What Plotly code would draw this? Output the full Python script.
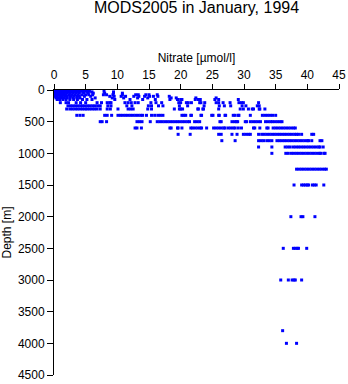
import plotly.graph_objects as go

# Standard depth levels [m]
depth_levels = [0, 10, 20, 30, 50, 75, 100, 125, 150, 200, 250, 300, 400, 500,
                600, 700, 800, 900, 1000, 1250, 1500, 2000, 2500, 3000, 3800, 4000]

# Nitrate [umol/l] observed at each depth level
n_0 = [0.0, 0.1, 0.2, 0.3, 0.4, 0.6, 0.7, 0.9, 1.0, 1.2, 1.5, 1.8, 2.2, 2.6, 3.0, 3.5, 4.1, 4.8]
n_10 = [0.0, 0.2, 0.3, 0.5, 0.8, 1.1, 1.4, 1.9, 2.3, 2.8, 3.2, 3.9, 4.5, 5.2]
n_20 = [0.1, 0.4, 0.7, 1.0, 1.3, 1.7, 2.1, 2.5, 3.0, 3.6, 4.2, 4.9, 5.6, 7.9]
n_30 = [0.0, 0.3, 0.6, 0.9, 1.3, 1.6, 2.0, 2.4, 2.9, 3.4, 3.9, 4.6, 5.3, 6.0, 9.4]
n_50 = [0.2, 0.5, 0.9, 1.2, 1.6, 2.0, 2.5, 3.0, 3.5, 4.0, 4.7, 5.4, 6.2, 8.0, 9.4, 10.8]
n_75 = [0.1, 0.4, 0.8, 1.1, 1.5, 1.9, 2.4, 2.8, 3.3, 3.8, 4.4, 5.0, 5.5, 6.1, 7.8, 8.3,
        9.3, 10.8, 12.9, 13.3, 14.5, 15.0, 16.3]
n_100 = [0.2, 0.5, 0.9, 1.3, 1.7, 2.1, 2.6, 3.1, 3.6, 4.0, 4.8, 5.8, 8.8, 9.5, 10.6,
         11.3, 12.6, 13.4, 14.3, 15.1, 15.7, 16.4, 18.2]
n_125 = [0.3, 0.7, 1.1, 1.5, 2.0, 2.5, 3.0, 3.6, 4.1, 6.5, 9.2, 11.0, 13.2, 14.8, 18.5,
         19.3, 22.4, 25.6]
n_150 = [0.5, 0.9, 1.4, 1.9, 2.5, 3.1, 3.7, 4.5, 5.2, 6.0, 9.6, 12.0, 14.0, 16.0, 18.3,
         19.5, 20.0, 20.2, 22.3, 22.8, 23.1, 25.4, 26.0, 29.1]
n_200 = [1.0, 1.9, 2.3, 3.5, 4.2, 5.0, 6.8, 7.5, 8.4, 8.8, 9.0, 11.2, 11.7, 12.2, 12.8,
         13.3, 15.3, 16.1, 17.0, 19.7, 20.0, 20.9, 21.2, 21.7, 23.0, 23.2, 23.8, 25.6,
         26.0, 26.7, 27.8, 29.2, 29.6, 29.9, 32.3]
n_250 = [2.2, 2.6, 3.0, 3.4, 3.8, 4.2, 4.5, 4.9, 5.3, 5.7, 6.1, 6.5, 6.9, 7.3, 8.5, 9.0,
         11.5, 12.3, 14.9, 15.4, 16.5, 17.2, 19.8, 21.1, 23.7, 26.1, 26.9, 27.9, 29.7,
         30.3, 32.1, 32.4]
n_300 = [2.0, 2.5, 2.9, 3.3, 3.7, 4.1, 4.5, 4.9, 5.2, 5.6, 6.0, 6.4, 6.8, 7.3, 8.4, 8.9,
         10.1, 11.7, 12.1, 12.5, 14.8, 15.4, 19.0, 19.8, 20.0, 20.3, 22.7, 22.8, 23.5,
         23.6, 26.0, 29.4, 29.9, 30.7, 31.3, 31.5, 32.4, 32.5, 33.3]
n_400 = [3.6, 4.1, 4.6, 8.0, 8.4, 9.1, 10.1, 10.5, 10.9, 11.3, 11.7, 12.1, 12.5, 12.9,
         13.3, 13.7, 14.0, 14.6, 15.4, 15.9, 16.4, 16.8, 17.2, 20.2, 20.5, 20.8, 21.6,
         21.7, 23.2, 23.3, 24.9, 25.1, 26.0, 26.1, 27.0, 27.1, 28.3, 28.6, 29.1, 29.2,
         31.0, 32.9, 33.3, 33.7, 34.1, 34.5, 35.0]
n_500 = [7.3, 7.6, 8.3, 13.1, 13.5, 13.9, 15.2, 16.3, 16.7, 17.1, 17.5, 17.9, 18.3, 18.7,
         19.1, 19.5, 19.9, 20.3, 20.7, 21.1, 21.4, 22.2, 22.6, 23.0, 26.2, 26.4, 28.1,
         28.5, 28.8, 29.0, 30.2, 30.4, 31.0, 31.4, 31.8, 32.2, 32.6, 33.4, 33.8, 34.2,
         34.5, 34.9, 35.3, 35.7, 36.0]
n_600 = [12.8, 13.1, 13.8, 18.3, 18.5, 19.5, 19.6, 20.2, 21.6, 21.9, 22.3, 22.7, 23.1,
         23.3, 24.1, 25.2, 25.6, 26.0, 26.4, 26.8, 27.0, 27.5, 27.9, 28.3, 28.6, 29.1,
         29.6, 31.5, 31.7, 32.5, 33.6, 33.8, 34.6, 35.0, 35.4, 35.8, 36.2, 36.6, 37.0,
         37.4, 37.8, 38.1]
n_700 = [19.6, 21.5, 26.0, 26.4, 28.1, 28.9, 29.9, 30.3, 30.7, 31.0, 32.3, 32.8, 33.2,
         33.6, 34.0, 34.4, 34.8, 35.2, 35.6, 36.0, 36.4, 36.8, 37.2, 37.6, 38.0, 38.3,
         38.6, 39.1, 40.7, 41.0]
n_800 = [26.5, 28.6, 32.3, 32.7, 33.1, 33.6, 34.0, 34.4, 35.2, 35.6, 36.0, 36.4, 36.8,
         37.2, 37.6, 38.0, 38.4, 38.8, 39.2, 39.6, 40.0, 40.2, 40.7, 42.0, 42.3]
n_900 = [32.3, 34.4, 36.5, 36.9, 37.3, 37.8, 38.2, 38.6, 39.0, 39.4, 39.8, 40.2, 40.6,
         41.0, 41.4, 41.8, 42.0, 42.5]
n_1000 = [34.4, 36.6, 37.0, 37.5, 37.9, 38.3, 38.7, 39.1, 39.5, 39.9, 40.3, 40.7, 41.1,
          41.5, 41.9, 42.1, 42.6, 42.8]
n_1250 = [38.3, 38.7, 39.1, 39.5, 39.9, 40.3, 40.7, 41.1, 41.5, 41.9, 42.3, 42.7, 43.0]
n_1500 = [37.9, 39.1, 39.4, 39.7, 40.0, 40.2, 40.8, 41.1, 41.4, 42.6]
n_2000 = [37.4, 39.0, 39.3, 41.2]
n_2500 = [36.2, 37.8, 38.1, 38.4, 38.6, 39.9]
n_3000 = [35.8, 37.0, 37.6, 37.9, 38.1, 39.1]
n_3800 = [36.1]
n_4000 = [36.7, 38.3]

nitrate_by_level = [n_0, n_10, n_20, n_30, n_50, n_75, n_100, n_125, n_150, n_200,
                    n_250, n_300, n_400, n_500, n_600, n_700, n_800, n_900, n_1000,
                    n_1250, n_1500, n_2000, n_2500, n_3000, n_3800, n_4000]

x_tick_vals = [0, 5, 10, 15, 20, 25, 30, 35, 40, 45]
y_tick_vals = [0, 500, 1000, 1500, 2000, 2500, 3000, 3500, 4000, 4500]

xs, ys = [], []
for d, vals in zip(depth_levels, nitrate_by_level):
    for v in vals:
        xs.append(v)
        ys.append(d)

FONT = "Liberation Sans, Arial, Helvetica, sans-serif"

fig = go.Figure()
fig.add_trace(go.Scatter(
    x=xs, y=ys, mode="markers",
    marker=dict(symbol="square", size=3, color="#0000ff", line=dict(width=0)),
    hoverinfo="skip",
))

fig.update_layout(
    width=348, height=384,
    margin=dict(l=54, r=9, t=90, b=9),
    paper_bgcolor="white", plot_bgcolor="white",
    showlegend=False,
    font=dict(family=FONT, size=12, color="black"),
    title=dict(text="MODS2005 in January, 1994", font=dict(family=FONT, size=16, color="black"),
               x=0.5, xref="paper", xanchor="center",
               y=1 - 7 / 384, yref="container", yanchor="middle"),
)
fig.update_xaxes(
    side="top", range=[0, 45], tickvals=x_tick_vals,
    ticks="outside", ticklen=5, tickwidth=1, tickcolor="black",
    showline=True, linecolor="black", linewidth=1,
    showgrid=False, zeroline=False, automargin=False,
    title=dict(text="Nitrate [µmol/l]", standoff=3, font=dict(size=12)),
    tickfont=dict(size=12),
)
fig.update_yaxes(
    range=[4500, 0], tickvals=y_tick_vals,
    ticks="outside", ticklen=6, tickwidth=1, tickcolor="black",
    showline=True, linecolor="black", linewidth=1,
    showgrid=False, zeroline=False, automargin=False,
    title=dict(text="Depth [m]", standoff=4, font=dict(size=12)),
    tickfont=dict(size=12),
)

fig.write_html("out.html")
